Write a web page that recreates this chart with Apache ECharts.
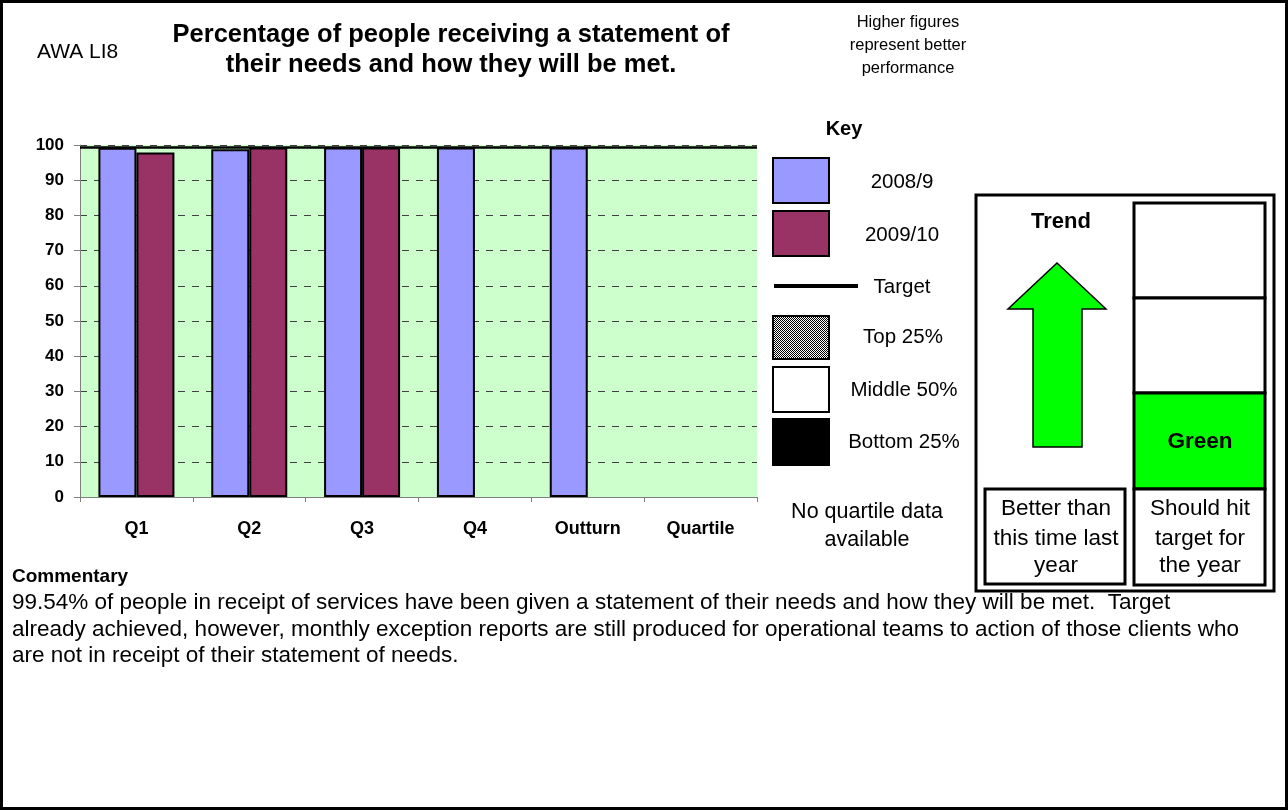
<!DOCTYPE html>
<html>
<head>
<meta charset="utf-8">
<script src="https://cdn.jsdelivr.net/npm/echarts@6/dist/echarts.min.js"></script>
<style>
  html, body { margin: 0; padding: 0; background: #fff; }
  #chart { width: 1288px; height: 810px; }
</style>
</head>
<body>
<div id="chart"></div>
<script>
// Quarterly values (percent)
const categories = ['Q1', 'Q2', 'Q3', 'Q4', 'Outturn', 'Quartile'];
const values2008 = [99.2, 98.8, 99.3, 99.3, 99.3, null];
const values2009 = [97.9, 99.3, 99.3, null, null, null];
const targetValue = 99.4;
const yTicks = { min: 0, max: 100, interval: 10 };

const FONT = '"Liberation Sans", Arial, sans-serif';
const chart = echarts.init(document.getElementById('chart'), null, { renderer: 'canvas' });

// small checker pattern for the "Top 25%" swatch
const pat = document.createElement('canvas');
pat.width = 2; pat.height = 2;
const pctx = pat.getContext('2d');
pctx.fillStyle = '#ffffff'; pctx.fillRect(0, 0, 2, 2);
pctx.fillStyle = '#000000'; pctx.fillRect(0, 0, 1, 1); pctx.fillRect(1, 1, 1, 1);

function txt(x, y, text, size, opts) {
  opts = opts || {};
  return {
    type: 'text', x: x, y: y, z: 20,
    style: {
      text: text, fill: '#000', font: (opts.bold ? 'bold ' : '') + size + 'px ' + FONT,
      textAlign: opts.align || 'center', textVerticalAlign: 'middle'
    }
  };
}
function box(x, y, w, h, fill, lw) {
  return {
    type: 'rect', z: 10, shape: { x: x, y: y, width: w, height: h },
    style: { fill: fill, stroke: '#000', lineWidth: lw || 2 }
  };
}

const graphics = [
  // page frame
  { type: 'rect', z: 30, shape: { x: 1.5, y: 1.5, width: 1285, height: 807 }, style: { fill: 'none', stroke: '#000', lineWidth: 3 } },
  // header
  txt(37, 52, 'AWA LI8', 21, { align: 'left' }),
  txt(451, 35, 'Percentage of people receiving a statement of', 25.5, { bold: true }),
  txt(451, 65, 'their needs and how they will be met.', 25.5, { bold: true }),
  txt(908, 22, 'Higher figures', 16.5),
  txt(908, 45, 'represent better', 16.5),
  txt(908, 68, 'performance', 16.5),
  // key
  txt(844, 129, 'Key', 20, { bold: true }),
  box(773, 158, 56, 45, '#9999FF'), txt(902, 182, '2008/9', 20.5),
  box(773, 211, 56, 45, '#993366'), txt(902, 235, '2009/10', 20.5),
  { type: 'rect', z: 10, shape: { x: 774, y: 284, width: 84, height: 4 }, style: { fill: '#000' } },
  txt(902, 287, 'Target', 20.5),
  { type: 'rect', z: 10, shape: { x: 773, y: 316, width: 56, height: 43 }, style: { fill: { image: pat, repeat: 'repeat' }, stroke: '#000', lineWidth: 2 } },
  txt(903, 337, 'Top 25%', 20.5),
  box(773, 367, 56, 45, '#fff'), txt(904, 390, 'Middle 50%', 20.5),
  box(773, 419, 56, 46, '#000'), txt(904, 442, 'Bottom 25%', 20.5),
  txt(867, 512, 'No quartile data', 21.5),
  txt(867, 540, 'available', 21.5),
  // status panel
  { type: 'rect', z: 10, shape: { x: 976, y: 195, width: 298, height: 396 }, style: { fill: '#fff', stroke: '#000', lineWidth: 3 } },
  txt(1061, 222, 'Trend', 22, { bold: true }),
  {
    type: 'polygon', z: 11,
    shape: { points: [[1057, 263], [1106, 309], [1082, 309], [1082, 447], [1033, 447], [1033, 309], [1008, 309]] },
    style: { fill: '#00FF00', stroke: '#000', lineWidth: 1.5 }
  },
  box(1134, 203, 131, 95, '#fff', 3),
  box(1134, 298, 131, 95, '#fff', 3),
  box(1134, 393, 131, 96, '#00FF00', 3),
  box(1134, 489, 131, 96, '#fff', 3),
  txt(1200, 442, 'Green', 22.5, { bold: true }),
  box(985, 489, 140, 95, '#fff', 3),
  txt(1056, 509, 'Better than', 22.5),
  txt(1056, 539, 'this time last', 22.5),
  txt(1056, 566, 'year', 22.5),
  txt(1200, 509, 'Should hit', 22.5),
  txt(1200, 539, 'target for', 22.5),
  txt(1200, 566, 'the year', 22.5),
  // commentary
  txt(12, 577, 'Commentary', 19, { bold: true, align: 'left' }),
  txt(12, 603, '99.54% of people in receipt of services have been given a statement of their needs and how they will be met.  Target', 22.5, { align: 'left' }),
  txt(12, 630, 'already achieved, however, monthly exception reports are still produced for operational teams to action of those clients who', 22.5, { align: 'left' }),
  txt(12, 656, 'are not in receipt of their statement of needs.', 22.5, { align: 'left' })
];

const barStyle = (color) => ({ color: color, borderColor: '#000', borderWidth: 2 });

chart.setOption({
  animation: false,
  backgroundColor: '#fff',
  grid: {
    left: 80, right: 531, top: 145, bottom: 313,
    show: true, backgroundColor: '#CCFFCC', borderWidth: 0
  },
  xAxis: {
    type: 'category', data: categories,
    axisLine: { lineStyle: { color: '#808080', width: 1 } },
    axisTick: { show: true, length: 5, lineStyle: { color: '#808080' } },
    axisLabel: { color: '#000', fontFamily: FONT, fontWeight: 'bold', fontSize: 18, margin: 23 },
    splitLine: { show: false }
  },
  yAxis: {
    type: 'value', min: yTicks.min, max: yTicks.max, interval: yTicks.interval,
    axisLine: { show: true, lineStyle: { color: '#808080', width: 1 } },
    axisTick: { show: true, length: 6, lineStyle: { color: '#808080' } },
    axisLabel: { color: '#000', fontFamily: FONT, fontWeight: 'bold', fontSize: 17, margin: 16 },
    splitLine: { show: true, lineStyle: { color: '#404040', type: [7, 7], width: 1 } }
  },
  series: [
    {
      name: '2008/9', type: 'bar', data: values2008,
      barWidth: 38, barGap: '0%',
      itemStyle: barStyle('#9999FF'),
      markLine: {
        silent: true, symbol: 'none', label: { show: false },
        lineStyle: { color: '#000', type: 'solid', width: 2.5 },
        data: [{ yAxis: targetValue }]
      },
      z: 2
    },
    {
      name: '2009/10', type: 'bar', data: values2009,
      barWidth: 38,
      itemStyle: barStyle('#993366'),
      z: 2
    }
  ],
  graphic: graphics
});
</script>
</body>
</html>
